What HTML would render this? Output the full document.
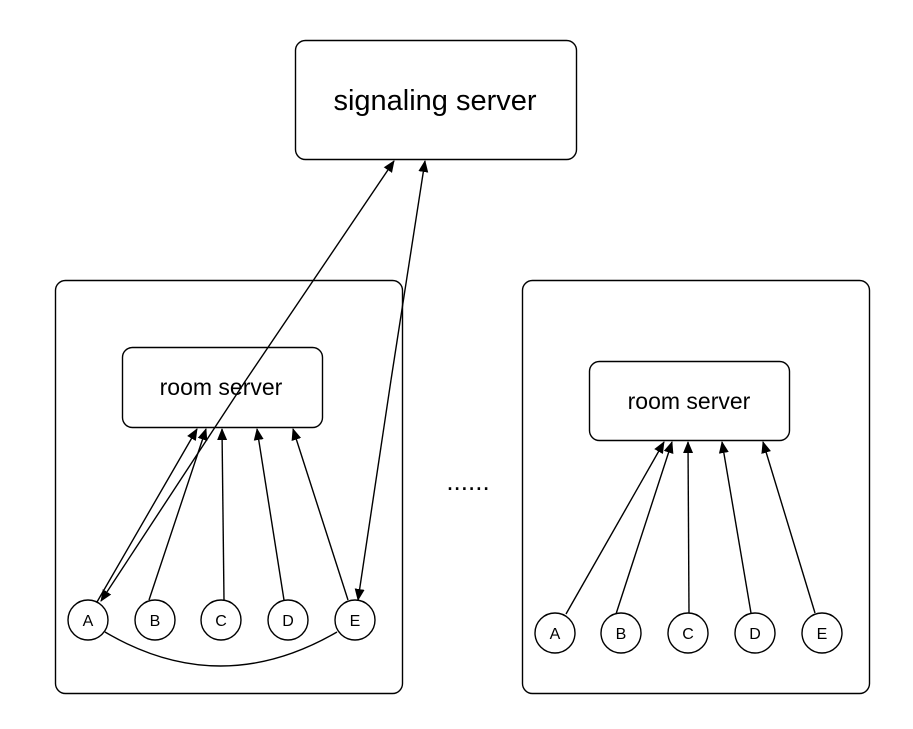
<!DOCTYPE html>
<html><head><style>body{margin:0;background:#fff}svg{display:block}text{font-family:"Liberation Sans",sans-serif;fill:#000}</style></head><body>
<svg width="913" height="729" viewBox="0 0 913 729">
<defs><marker id="ar" markerWidth="12" markerHeight="12" refX="11" refY="5.5" orient="auto" markerUnits="userSpaceOnUse"><path d="M0,0.5 L12,5.5 L0,10.5 z" fill="#000"/></marker></defs>
<g fill="none" stroke="#000" stroke-width="1.4">
<rect x="295.5" y="40.5" width="281" height="119" rx="10"/>
<rect x="55.5" y="280.5" width="347" height="413" rx="10"/>
<rect x="522.5" y="280.5" width="347" height="413" rx="10"/>
<rect x="122.5" y="347.5" width="200" height="80" rx="10"/>
<rect x="589.5" y="361.5" width="200" height="79" rx="10"/>
<g fill="#fff">
<circle cx="88" cy="620" r="20"/><circle cx="155" cy="620" r="20"/><circle cx="221" cy="620" r="20"/><circle cx="288" cy="620" r="20"/><circle cx="355" cy="620" r="20"/>
<circle cx="555" cy="633" r="20"/><circle cx="621" cy="633" r="20"/><circle cx="688" cy="633" r="20"/><circle cx="755" cy="633" r="20"/><circle cx="822" cy="633" r="20"/>
</g>
<path d="M105,632 Q220,700 337,632"/>
<g marker-end="url(#ar)">
<line x1="97" y1="602" x2="197" y2="429"/>
<line x1="149" y1="600" x2="206" y2="429"/>
<line x1="224" y1="600" x2="222" y2="429"/>
<line x1="284" y1="600" x2="257" y2="429"/>
<line x1="348" y1="600" x2="293" y2="429"/>
<line x1="566" y1="614" x2="664" y2="442"/>
<line x1="616" y1="614" x2="672" y2="442"/>
<line x1="689" y1="613" x2="688" y2="442"/>
<line x1="751" y1="613" x2="722" y2="442"/>
<line x1="815" y1="613" x2="763" y2="442"/>
<line x1="246" y1="380" x2="101" y2="601"/>
<line x1="246" y1="380" x2="394" y2="161"/>
<line x1="391" y1="380" x2="358" y2="600"/>
<line x1="391" y1="380" x2="425" y2="161"/>
</g>
</g>
<text x="435" y="110" font-size="29" text-anchor="middle">signaling server</text>
<text x="221" y="395" font-size="23" text-anchor="middle">room server</text>
<text x="689" y="409" font-size="23" text-anchor="middle">room server</text>
<text x="468" y="490" font-size="26" text-anchor="middle">......</text>
<g font-size="16" text-anchor="middle">
<text x="88" y="626">A</text><text x="155" y="626">B</text><text x="221" y="626">C</text><text x="288" y="626">D</text><text x="355" y="626">E</text>
<text x="555" y="639">A</text><text x="621" y="639">B</text><text x="688" y="639">C</text><text x="755" y="639">D</text><text x="822" y="639">E</text>
</g>
</svg>
</body></html>
